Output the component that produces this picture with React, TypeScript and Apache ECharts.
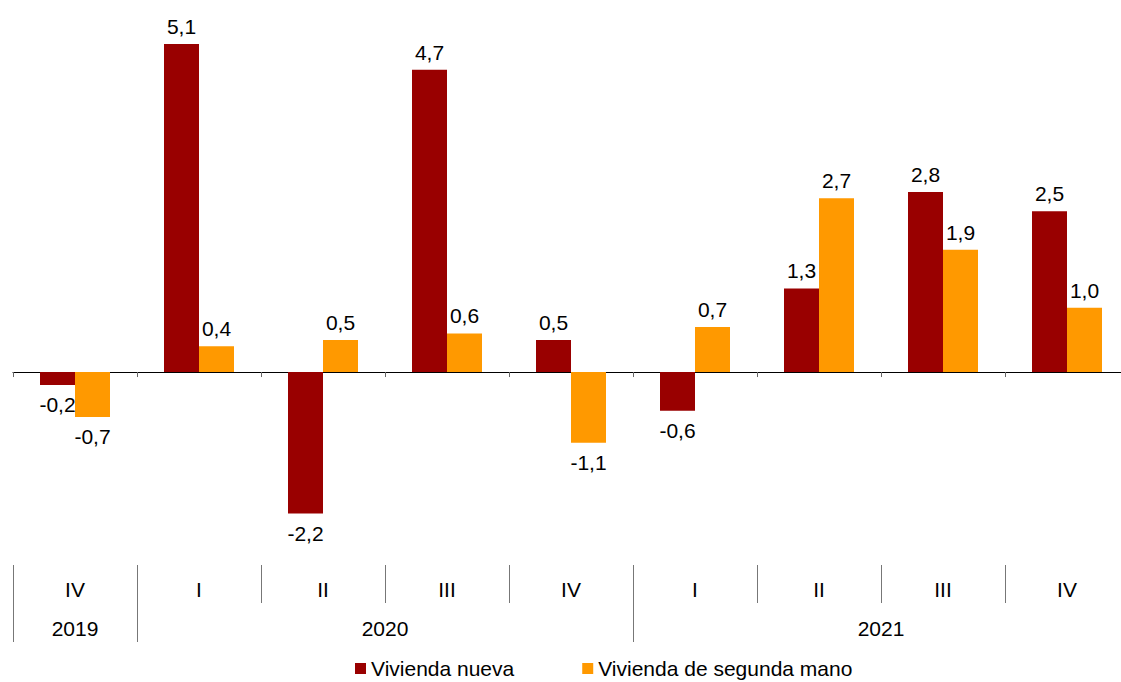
import React, { useEffect, useRef } from "react";
import * as echarts from "echarts";

const quarters = ["IV", "I", "II", "III", "IV", "I", "II", "III", "IV"];
const yearLabels = ["2019", "2020", "2021"];
const yearSpans = [1, 4, 4];
const nueva = [-0.2, 5.1, -2.2, 4.7, 0.5, -0.6, 1.3, 2.8, 2.5];
const segunda = [-0.7, 0.4, 0.5, 0.6, -1.1, 0.7, 2.7, 1.9, 1.0];
const seriesNames = ["Vivienda nueva", "Vivienda de segunda mano"];

const FONT = "'Liberation Sans', Arial, sans-serif";
const FS = 21;

export default function App() {
  const ref = useRef<HTMLDivElement>(null);
  useEffect(() => {
    if (!ref.current) return;
    const chart = echarts.init(ref.current, undefined, { renderer: "svg" });

    const yearStarts: number[] = [];
    const yearCenters: number[] = [];
    let acc = 0;
    yearSpans.forEach((s) => {
      yearStarts.push(acc);
      yearCenters.push(acc + s / 2);
      acc += s;
    });
    const n = quarters.length;
    const quarterTicks = quarters.map((_, i) => i);
    const quarterCenters = quarters.map((_, i) => i + 0.5);

    const fmt = (v: number) => v.toFixed(1).replace(".", ",");
    const mk = (arr: number[]) =>
      arr.map((v) => ({
        value: v,
        label: { position: v >= 0 ? "top" : "bottom", distance: v >= 0 ? 7 : 9 },
      }));

    const labelCfg = {
      show: true,
      fontSize: FS,
      color: "#000",
      fontFamily: FONT,
      formatter: (p: any) => fmt(p.value),
    };

    chart.setOption({
      animation: false,
      textStyle: { fontFamily: FONT },
      grid: { left: 13, width: 1116, top: 44, height: 521, outerBoundsMode: "none", containLabel: false },
      legend: {
        data: seriesNames,
        left: 350,
        top: 653,
        icon: "rect",
        itemWidth: 11,
        itemHeight: 11,
        itemGap: 68,
        textStyle: { fontSize: FS, color: "#000", fontFamily: FONT },
      },
      xAxis: [
        {
          type: "category",
          data: quarters,
          position: "bottom",
          axisLine: { onZero: true, lineStyle: { color: "#000", width: 1 } },
          axisTick: { show: true, length: 5, lineStyle: { color: "#666" } },
          axisLabel: { show: false },
          splitLine: { show: false },
        },
        {
          type: "value",
          min: 0,
          max: n,
          position: "bottom",
          offset: 0,
          axisLine: { show: false, onZero: false },
          splitLine: { show: false },
          axisTick: {
            show: true,
            length: 38,
            customValues: quarterTicks,
            lineStyle: { color: "#777" },
          },
          axisLabel: {
            show: true,
            customValues: quarterCenters,
            margin: 14,
            fontSize: FS,
            color: "#000",
            fontFamily: FONT,
            formatter: (v: number) => quarters[Math.floor(v)] ?? "",
          },
        },
        {
          type: "value",
          min: 0,
          max: n,
          position: "bottom",
          offset: 0,
          axisLine: { show: false, onZero: false },
          splitLine: { show: false },
          axisTick: {
            show: true,
            length: 77,
            customValues: yearStarts,
            lineStyle: { color: "#777" },
          },
          axisLabel: {
            show: true,
            customValues: yearCenters,
            margin: 53,
            fontSize: FS,
            color: "#000",
            fontFamily: FONT,
            formatter: (v: number) => {
              const i = yearCenters.indexOf(v);
              return i >= 0 ? yearLabels[i] : "";
            },
          },
        },
      ],
      yAxis: {
        type: "value",
        min: -3,
        max: 5.1,
        show: false,
        splitLine: { show: false },
      },
      series: [
        {
          name: seriesNames[0],
          type: "bar",
          xAxisIndex: 0,
          data: mk(nueva),
          barWidth: 35,
          barGap: "0%",
          itemStyle: { color: "#990000" },
          label: labelCfg,
        },
        {
          name: seriesNames[1],
          type: "bar",
          xAxisIndex: 0,
          data: mk(segunda),
          barWidth: 35,
          barGap: "0%",
          itemStyle: { color: "#FF9900" },
          label: labelCfg,
        },
      ],
    });
    return () => chart.dispose();
  }, []);
  return (
    <div
      ref={ref}
      style={{ position: "fixed", left: 0, top: 0, width: 1121, height: 682, background: "#fff" }}
    />
  );
}
